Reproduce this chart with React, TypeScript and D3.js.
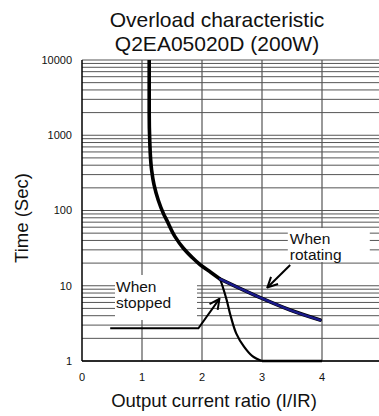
import React from "react";
import * as d3 from "d3";

// Overload curve of the servo amplifier: time to trip vs. output current ratio
const mainCurveX = [1.12, 1.12, 1.13, 1.16, 1.2, 1.27, 1.36, 1.41, 1.55, 1.69, 1.83, 1.97, 2.15, 2.3];
const mainCurveT = [10000, 2000, 800, 345, 220, 138, 90, 75, 45, 31.5, 24, 19, 15, 12.3];

const rotatingX = [2.3, 2.63, 3.0, 3.47, 3.97];
const rotatingT = [12.3, 9.25, 6.8, 4.76, 3.5];

const stoppedDropX = [2.3, 2.34, 2.41, 2.48, 2.57, 2.7, 2.84, 3.0];
const stoppedDropT = [12.3, 10.0, 6.5, 3.9, 2.33, 1.55, 1.16, 1.0];
const stoppedFloorX = [3.0, 4.0];
const stoppedFloorT = [1.0, 1.0];

// Leader lines pointing at the two branches
const stoppedArrowX = [0.47, 1.94, 2.29];
const stoppedArrowT = [2.72, 2.72, 6.7];
const rotatingArrowX = [3.47, 3.09];
const rotatingArrowT = [18.9, 9.5];

const xTicks = [0, 1, 2, 3, 4, 5];
const yDecades = [1, 10, 100, 1000, 10000];
const yTickLabels = ["1", "10", "100", "1000", "10000"];

const titleLines = ["Overload characteristic", "Q2EA05020D (200W)"];
const xAxisTitle = "Output current ratio (I/IR)";
const yAxisTitle = "Time (Sec)";
const stoppedText = ["When", "stopped"];
const rotatingText = ["When", "rotating"];

const W = 379;
const H = 416;
const FONT = "'Liberation Sans', Arial, Helvetica, sans-serif";

export default function App() {
  const x = d3.scaleLinear().domain([0, 5]).range([82, 382]);
  const y = d3.scaleLog().domain([1, 10000]).range([361, 60]);

  const mk = (curve: d3.CurveFactory) =>
    d3
      .line<[number, number]>()
      .x((d) => x(d[0]))
      .y((d) => y(d[1]))
      .curve(curve);
  const lineY = mk(d3.curveMonotoneY);
  const lineX = mk(d3.curveMonotoneX);
  const smooth = mk(d3.curveCatmullRom.alpha(0.5));
  const straight = mk(d3.curveLinear);

  const zip = (a: number[], b: number[]) => a.map((v, i) => [v, b[i]] as [number, number]);

  // minor + major horizontal grid lines
  const hLines: number[] = [];
  for (let d = 0; d < 4; d++) {
    for (let m = 1; m <= 9; m++) hLines.push(yDecades[d] * m);
  }
  hLines.push(10000);

  const [x0, x1] = x.range();

  // label box placement (anchored to data coordinates)
  const stoppedBox = { x: x(0.55), y: y(13.9), w: 82, h: 45 };
  const rotatingBox = { x: x(3.43), y: y(58.5), w: 82, h: 34 };

  return (
    <svg
      width={W}
      height={H}
      style={{ position: "fixed", left: 0, top: 0, background: "#fff" }}
      fontFamily={FONT}
    >
      <defs>
        <marker
          id="openArrow"
          viewBox="0 0 12 12"
          refX="11"
          refY="6"
          markerWidth="12"
          markerHeight="12"
          markerUnits="userSpaceOnUse"
          orient="auto"
        >
          <path d="M1,1 L11,6 L1,11" fill="none" stroke="#000" strokeWidth={2} />
        </marker>
      </defs>
      <rect x={0} y={0} width={W} height={H} fill="#fff" />

      {/* title */}
      <text x={217} y={27} textAnchor="middle" fontSize={21} fill="#111">
        {titleLines[0]}
      </text>
      <text x={217} y={51} textAnchor="middle" fontSize={21} fill="#111">
        {titleLines[1]}
      </text>

      {/* horizontal grid */}
      {hLines.map((v, i) => (
        <line key={"h" + i} x1={x0} x2={x1} y1={y(v)} y2={y(v)} stroke="#555" strokeWidth={1} />
      ))}
      {/* vertical grid */}
      {xTicks.slice(1).map((v) => (
        <line key={"v" + v} x1={x(v)} x2={x(v)} y1={y(10000)} y2={y(1)} stroke="#555" strokeWidth={1.2} />
      ))}

      {/* axes */}
      <line x1={x0} x2={x0} y1={y(10000)} y2={y(1)} stroke="#000" strokeWidth={1.5} />
      <line x1={x0} x2={x1} y1={y(1)} y2={y(1)} stroke="#000" strokeWidth={1.5} />

      {/* tick labels */}
      {yDecades.map((v, i) => (
        <text key={"yt" + i} x={72} y={y(v)} dy="0.35em" textAnchor="end" fontSize={11} fill="#111">
          {yTickLabels[i]}
        </text>
      ))}
      {xTicks.map((v) => (
        <text key={"xt" + v} x={x(v)} y={381} textAnchor="middle" fontSize={11} fill="#111">
          {v}
        </text>
      ))}

      {/* axis titles */}
      <text x={214} y={407} textAnchor="middle" fontSize={18.5} fill="#111">
        {xAxisTitle}
      </text>
      <text
        transform={`translate(28,218) rotate(-90)`}
        textAnchor="middle"
        fontSize={18.5}
        fill="#111"
      >
        {yAxisTitle}
      </text>

      {/* stopped branch */}
      <path d={smooth(zip(stoppedDropX, stoppedDropT)) || ""} fill="none" stroke="#000" strokeWidth={2.2} />
      <path d={straight(zip(stoppedFloorX, stoppedFloorT)) || ""} fill="none" stroke="#000" strokeWidth={2.6} />
      {/* main curve */}
      <path d={lineY(zip(mainCurveX, mainCurveT)) || ""} fill="none" stroke="#000" strokeWidth={3.6} strokeLinejoin="round" />
      {/* rotating branch */}
      <path d={lineX(zip(rotatingX, rotatingT)) || ""} fill="none" stroke="#000" strokeWidth={3.6} strokeLinecap="round" />
      <path d={lineX(zip(rotatingX, rotatingT)) || ""} fill="none" stroke="#1a1a8a" strokeWidth={2.4} strokeLinecap="round" />

      {/* label boxes */}
      <rect x={stoppedBox.x} y={stoppedBox.y} width={stoppedBox.w} height={stoppedBox.h} fill="#fff" />
      <text x={stoppedBox.x + 1} y={stoppedBox.y + 17} fontSize={15.5} fill="#111">
        {stoppedText[0]}
      </text>
      <text x={stoppedBox.x + 1} y={stoppedBox.y + 33.5} fontSize={15.5} fill="#111">
        {stoppedText[1]}
      </text>
      <rect x={rotatingBox.x} y={rotatingBox.y} width={rotatingBox.w} height={rotatingBox.h} fill="#fff" />
      <text x={rotatingBox.x + 2} y={rotatingBox.y + 15.5} fontSize={15.5} fill="#111">
        {rotatingText[0]}
      </text>
      <text x={rotatingBox.x + 2} y={rotatingBox.y + 32} fontSize={15.5} fill="#111">
        {rotatingText[1]}
      </text>

      {/* leader arrows */}
      <path
        d={straight(zip(stoppedArrowX, stoppedArrowT)) || ""}
        fill="none"
        stroke="#000"
        strokeWidth={2}
        markerEnd="url(#openArrow)"
      />
      <path
        d={straight(zip(rotatingArrowX, rotatingArrowT)) || ""}
        fill="none"
        stroke="#000"
        strokeWidth={2}
        markerEnd="url(#openArrow)"
      />
    </svg>
  );
}
